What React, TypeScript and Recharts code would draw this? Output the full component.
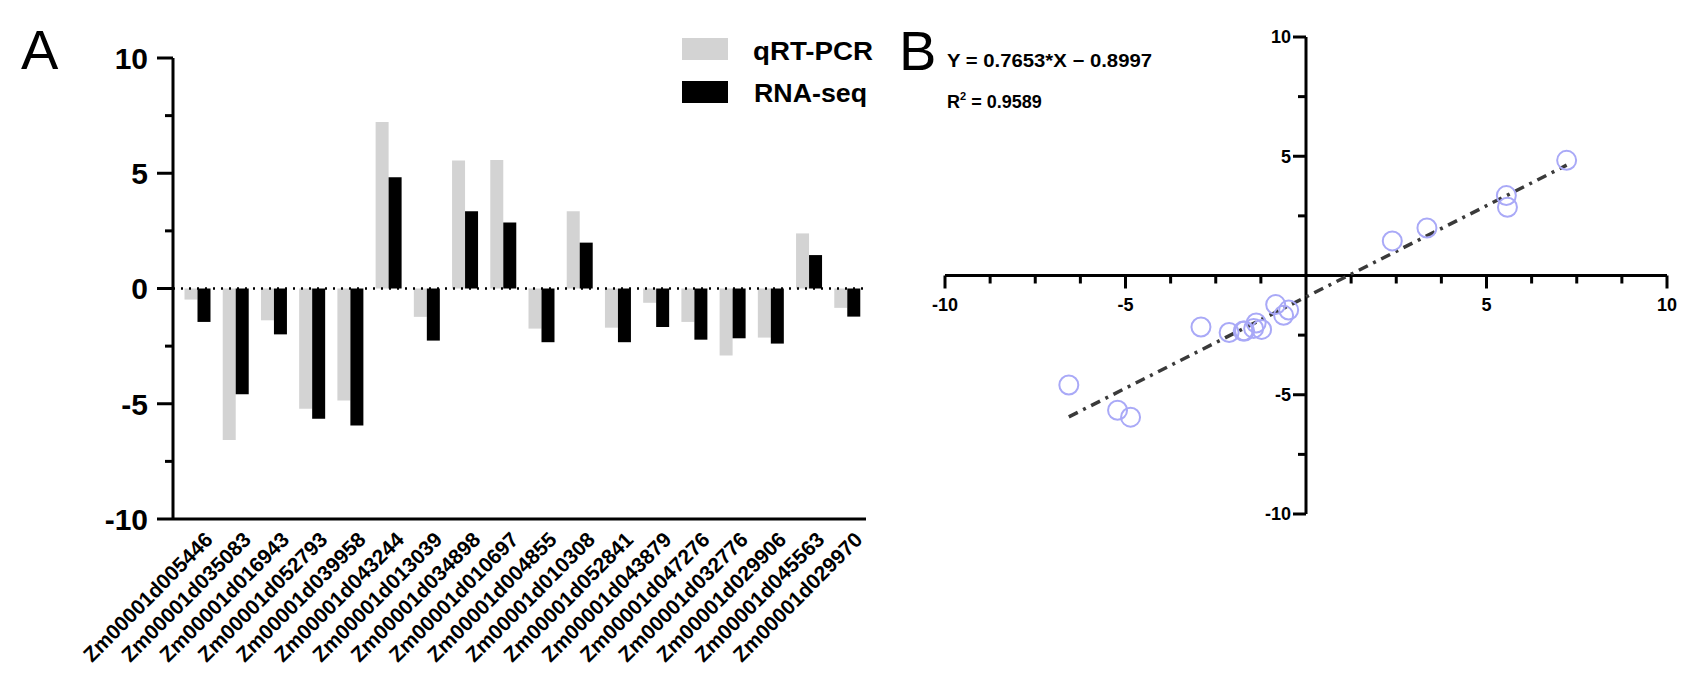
import React from "react";
import {
  BarChart,
  Bar,
  XAxis,
  YAxis,
  ReferenceLine,
  ReferenceDot,
  Legend,
  ScatterChart,
  Scatter,
} from "recharts";

const FONT = "'Liberation Sans', Arial, sans-serif";

const genes = [
  "Zm00001d005446",
  "Zm00001d035083",
  "Zm00001d016943",
  "Zm00001d052793",
  "Zm00001d039958",
  "Zm00001d043244",
  "Zm00001d013039",
  "Zm00001d034898",
  "Zm00001d010697",
  "Zm00001d004855",
  "Zm00001d010308",
  "Zm00001d052841",
  "Zm00001d043879",
  "Zm00001d047276",
  "Zm00001d032776",
  "Zm00001d029906",
  "Zm00001d045563",
  "Zm00001d029970",
];

const qpcr = [-0.48, -6.57, -1.38, -5.22, -4.86, 7.22, -1.23, 5.55, 5.58, -1.74, 3.35, -1.7, -0.62, -1.45, -2.91, -2.13, 2.39, -0.84];
const rnaseq = [-1.45, -4.59, -1.99, -5.65, -5.94, 4.83, -2.26, 3.35, 2.86, -2.33, 1.99, -2.33, -1.67, -2.22, -2.16, -2.39, 1.45, -1.22];

const barYTicks = [-10, -7.5, -5, -2.5, 0, 2.5, 5, 7.5, 10];
const scatterXTicks = [-10, -8.75, -7.5, -6.25, -5, -3.75, -2.5, -1.25, 1.25, 2.5, 3.75, 5, 6.25, 7.5, 8.75, 10];
const scatterYTicks = [-10, -7.5, -5, -2.5, 2.5, 5, 7.5, 10];

// fit printed on the figure
const slope = 0.7653;
const intercept = -0.8997;

const barData = genes.map((g, i) => ({ gene: g, qpcr: qpcr[i], rnaseq: rnaseq[i] }));
const points = qpcr.map((x, i) => ({ x, y: rnaseq[i] }));
const xMin = Math.min(...qpcr);
const xMax = Math.max(...qpcr);

const BarYTick = (props: any) => {
  const { x, y, payload } = props;
  const major = payload.value % 5 === 0;
  return (
    <g>
      <line x1={x - (major ? 16 : 8)} x2={x} y1={y} y2={y} stroke="#000" strokeWidth={3} />
      {major && (
        <text x={x - 25} y={y} dy="0.36em" textAnchor="end" fontSize={30} fontWeight="bold" fontFamily={FONT} fill="#000">
          {payload.value}
        </text>
      )}
    </g>
  );
};

const GeneTick = (props: any) => {
  const { x, y, payload } = props;
  const tx = x + 17;
  const ty = y + 22;
  return (
    <text x={tx} y={ty} textAnchor="end" transform={`rotate(-45 ${tx} ${ty})`} fontSize={21} fontWeight="bold" fontFamily={FONT} fill="#000">
      {payload.value}
    </text>
  );
};

const LegendBox = () => (
  <svg width={200} height={72}>
    <rect x={0} y={0} width={46} height={22} fill="#d3d3d3" />
    <rect x={0} y={43} width={46} height={22} fill="#000" />
    <text x={71} y={22} fontSize={25} fontWeight="bold" fontFamily={FONT} textLength={120} lengthAdjust="spacingAndGlyphs">
      qRT-PCR
    </text>
    <text x={72} y={64} fontSize={25} fontWeight="bold" fontFamily={FONT} textLength={113} lengthAdjust="spacingAndGlyphs">
      RNA-seq
    </text>
  </svg>
);

const xTickShape = (t: number) => (p: any) => {
  const major = t % 5 === 0;
  return (
    <g>
      <line x1={p.cx} x2={p.cx} y1={p.cy} y2={p.cy + (major ? 13 : 8)} stroke="#000" strokeWidth={3} />
      {major && (
        <text x={p.cx} y={p.cy + 35} textAnchor="middle" fontSize={18} fontWeight="bold" fontFamily={FONT} fill="#000">
          {t}
        </text>
      )}
    </g>
  );
};

const yTickShape = (t: number) => (p: any) => {
  const major = t % 5 === 0;
  return (
    <g>
      <line x1={p.cx - (major ? 13 : 8)} x2={p.cx} y1={p.cy} y2={p.cy} stroke="#000" strokeWidth={3} />
      {major && (
        <text x={p.cx - 15} y={p.cy} dy="0.36em" textAnchor="end" fontSize={18} fontWeight="bold" fontFamily={FONT} fill="#000">
          {t}
        </text>
      )}
    </g>
  );
};

const OpenCircle = (p: any) => <circle cx={p.cx} cy={p.cy} r={9.5} fill="none" stroke="#a9a9f7" strokeWidth={2} />;

export default function App() {
  return (
    <div style={{ position: "absolute", left: 0, top: 0, width: 1694, height: 688, background: "#fff", fontFamily: FONT }}>
      <div style={{ position: "absolute", left: 0, top: 0 }}>
        <BarChart width={866} height={688} data={barData} margin={{ top: 58, right: 0, bottom: 0, left: 0 }} barCategoryGap="17%" barGap={0}>
          <XAxis
            dataKey="gene"
            height={169}
            interval={0}
            tickLine={false}
            tickSize={0}
            tickMargin={0}
            padding={{ left: 5, right: 0 }}
            axisLine={{ stroke: "#000", strokeWidth: 3 }}
            tick={<GeneTick />}
          />
          <YAxis
            type="number"
            width={173}
            domain={[-10, 10]}
            ticks={barYTicks}
            interval={0}
            tickLine={false}
            tickSize={0}
            tickMargin={0}
            axisLine={{ stroke: "#000", strokeWidth: 3 }}
            tick={<BarYTick />}
          />
          <Legend
            layout="vertical"
            align="center"
            verticalAlign="middle"
            content={<LegendBox />}
            wrapperStyle={{ left: 682, top: 38, width: 200, height: 72 }}
          />
          <Bar dataKey="qpcr" name="qRT-PCR" fill="#d3d3d3" isAnimationActive={false} />
          <Bar dataKey="rnaseq" name="RNA-seq" fill="#000" isAnimationActive={false} />
          <ReferenceLine y={0} stroke="#000" strokeWidth={2.5} strokeDasharray="2 6" />
        </BarChart>
      </div>
      <div style={{ position: "absolute", left: 900, top: 0 }}>
        <ScatterChart width={794} height={688} margin={{ top: 37, right: 27, bottom: 174, left: 45 }}>
          <XAxis type="number" dataKey="x" domain={[-10, 10]} hide height={0} allowDataOverflow />
          <YAxis type="number" dataKey="y" domain={[-10, 10]} hide width={0} allowDataOverflow />
          <ReferenceLine y={0} stroke="#000" strokeWidth={3} />
          <ReferenceLine x={0} stroke="#000" strokeWidth={3} />
          {scatterXTicks.map((t) => (
            <ReferenceDot key={`x${t}`} x={t} y={0} r={0} ifOverflow="visible" shape={xTickShape(t)} />
          ))}
          {scatterYTicks.map((t) => (
            <ReferenceDot key={`y${t}`} x={0} y={t} r={0} ifOverflow="visible" shape={yTickShape(t)} />
          ))}
          <Scatter data={points} shape={OpenCircle} isAnimationActive={false} />
          <ReferenceLine
            segment={[
              { x: xMin, y: slope * xMin + intercept },
              { x: xMax, y: slope * xMax + intercept },
            ]}
            stroke="#3a3a3a"
            strokeWidth={3.5}
            strokeDasharray="10 6 3 6"
            ifOverflow="visible"
          />
        </ScatterChart>
      </div>
      <svg width={1694} height={688} style={{ position: "absolute", left: 0, top: 0, pointerEvents: "none" }}>
        <text x={21} y={69} fontSize={56} fontFamily={FONT}>A</text>
        <text x={899} y={70} fontSize={56} fontFamily={FONT}>B</text>
        <text x={947} y={67} fontSize={18} fontWeight="bold" fontFamily={FONT} textLength={205} lengthAdjust="spacingAndGlyphs">
          Y = 0.7653*X − 0.8997
        </text>
        <text x={947} y={108} fontSize={18} fontWeight="bold" fontFamily={FONT}>
          R<tspan fontSize={11} dy={-8}>2</tspan>
          <tspan dy={8}> = 0.9589</tspan>
        </text>
      </svg>
    </div>
  );
}
